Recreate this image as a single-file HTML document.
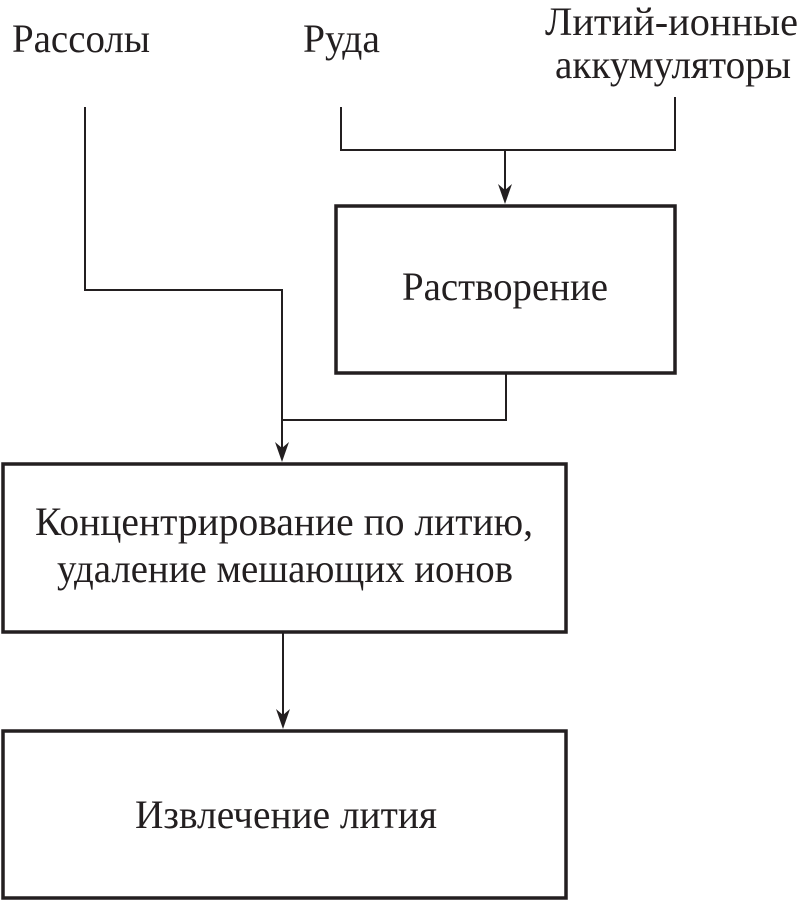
<!DOCTYPE html>
<html><head><meta charset="utf-8"><style>
html,body{margin:0;padding:0;background:#fff;}
svg{display:block}
text{font-family:"Liberation Serif","DejaVu Serif",serif;font-size:40px;fill:#231f20}
</style></head><body>
<svg width="799" height="902" viewBox="0 0 799 902" xmlns="http://www.w3.org/2000/svg">
<g fill="none" stroke="#231f20" stroke-width="2">
<polyline points="85,107 85,290 282,290 282,450"/>
<polyline points="341,107 341,150 675,150 675,97"/>
<line x1="505" y1="150" x2="505" y2="192"/>
<polyline points="506,374 506,420 282,420"/>
<line x1="283" y1="632" x2="283" y2="718"/>
</g>
<g fill="#231f20">
<path d="M498,184 L505,204 L512,184 L505,190 Z"/>
<path d="M275,442 L282,462 L289,442 L282,448 Z"/>
<path d="M276,709 L283,729 L290,709 L283,715 Z"/>
</g>
<g fill="none" stroke="#231f20" stroke-width="3.5">
<rect x="336" y="206" width="339" height="167"/>
<rect x="3" y="464" width="563" height="168"/>
<rect x="3" y="731" width="563" height="167"/>
</g>
<text x="12" y="52" textLength="138" lengthAdjust="spacingAndGlyphs">Рассолы</text>
<text x="303" y="52" textLength="77" lengthAdjust="spacingAndGlyphs">Руда</text>
<text x="545" y="35" textLength="253" lengthAdjust="spacingAndGlyphs">Литий-ионные</text>
<text x="555" y="78" textLength="236" lengthAdjust="spacingAndGlyphs">аккумуляторы</text>
<text x="402" y="300" textLength="206" lengthAdjust="spacingAndGlyphs">Растворение</text>
<text x="35" y="535" textLength="498" lengthAdjust="spacingAndGlyphs">Концентрирование по литию,</text>
<text x="57" y="582" textLength="456" lengthAdjust="spacingAndGlyphs">удаление мешающих ионов</text>
<text x="135" y="828" textLength="302" lengthAdjust="spacingAndGlyphs">Извлечение лития</text>
</svg>
</body></html>
